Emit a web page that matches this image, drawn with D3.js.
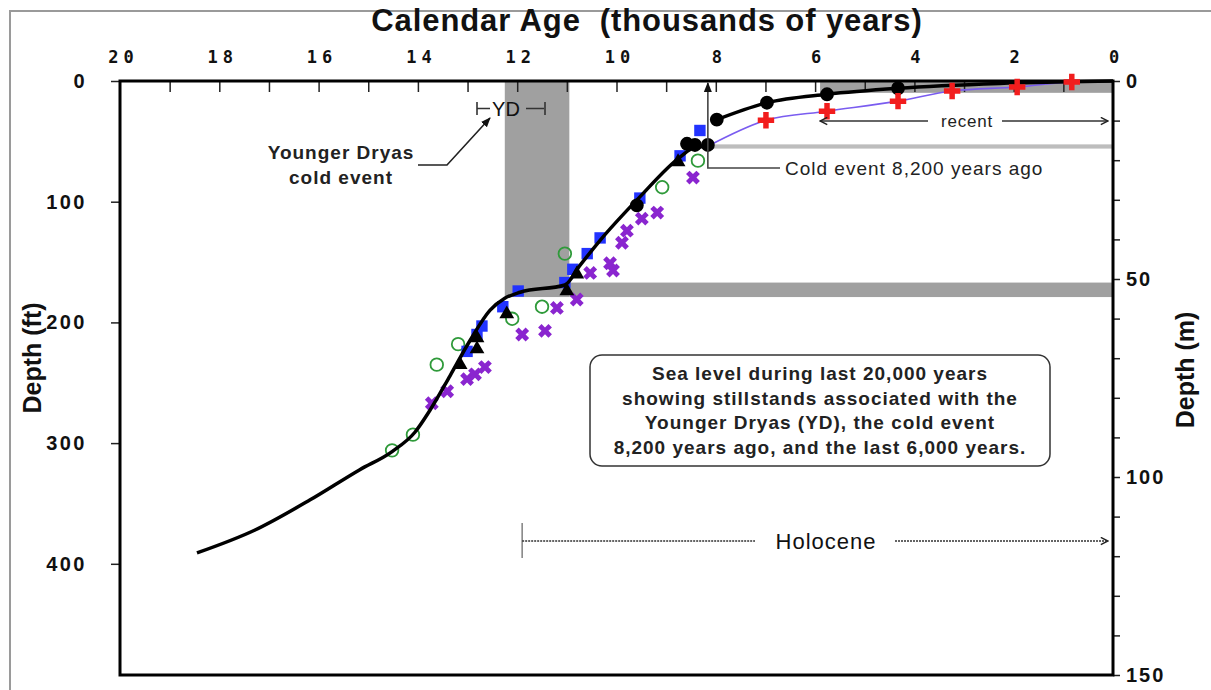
<!DOCTYPE html>
<html>
<head>
<meta charset="utf-8">
<script src="https://cdn.jsdelivr.net/npm/d3@7"></script>
<style>
  body { margin: 0; background: #fff; }
  svg { font-family: "Liberation Sans", Arial, sans-serif; }
</style>
</head>
<body>
<script>
// ages in thousands of years, depths in feet
const topTicks = [20, 18, 16, 14, 12, 10, 8, 6, 4, 2, 0]
const ftTicks = [0, 100, 200, 300, 400]
const mTicks = [0, 50, 100, 150]

const curveLow = [[18.45,391],[17.28,372],[16.17,347],[15.17,322],[14.52,307],[14.06,291],[13.76,273],[13.35,244],
  [12.95,215],[12.55,190],[12.25,180],[11.94,175],[11.04,169],[10.74,153],[10.33,132],[9.53,96],
  [8.72,63],[8.42,55],[8.16,54]]
const curveHigh = [[7.98,32],[6.97,18],[5.76,11],[4.33,6],[2.28,2],[0,0]]
const curveBlue = [[8.16,54],[6.99,32.5],[5.76,25],[4.33,16.7],[3.24,8.3],[1.93,5],[0.83,0.8],[0,0]]

const greenCircles = [[14.52,306],[14.10,293],[13.62,235],[13.19,218],[12.10,197],[11.50,187],[11.04,143],[9.08,88],[8.36,66]]
const purpleX = [[13.72,267],[13.41,257],[13.01,247],[12.85,243],[12.65,237],[11.90,210],[11.44,207],[11.20,188],
  [10.80,181],[10.53,159],[10.13,151],[10.07,157],[9.89,134],[9.79,124],[9.49,114],[9.18,109],[8.46,80]]
const blueSquares = [[13.01,224],[12.81,210],[12.71,203],[12.29,187],[11.98,174],[11.04,167],[10.88,156],
  [10.59,143],[10.33,130],[9.53,97],[8.72,62],[8.32,41]]
const blackTriangles = [[13.15,235],[12.81,222],[12.81,213],[12.21,193],[11.0,174],[10.80,160],[8.76,67]]
const blackDots = [[9.59,103],[8.58,52],[8.42,53],[8.16,53],[7.98,32],[6.97,18],[5.76,11],[4.33,6]]
const redCrosses = [[6.99,32.5],[5.76,25],[4.33,16.7],[3.24,8.3],[1.93,5],[0.83,0.8]]

const ftPerM = 3.2808
const w = 1211, h = 690
const pL = 120, pR = 1113, pT = 81, pB = 675

const x = d3.scaleLinear().domain([20, 0]).range([pL, pR])
const y = d3.scaleLinear().domain([0, 150 * ftPerM]).range([pT, pB])
const ym = d3.scaleLinear().domain([0, 150]).range([pT, pB])

const svg = d3.select("body").append("svg").attr("width", w).attr("height", h)

// arrow markers
const defs = svg.append("defs")
defs.append("marker").attr("id", "arr").attr("viewBox", "0 0 10 10").attr("refX", 9).attr("refY", 5)
  .attr("markerWidth", 9).attr("markerHeight", 9).attr("orient", "auto")
  .attr("markerUnits", "userSpaceOnUse")
  .append("path").attr("d", "M1,1 L9,5 L1,9").attr("fill", "none").attr("stroke", "#222").attr("stroke-width", 1.6)
defs.append("marker").attr("id", "arrf").attr("viewBox", "0 0 10 10").attr("refX", 9).attr("refY", 5)
  .attr("markerWidth", 10).attr("markerHeight", 10).attr("orient", "auto")
  .attr("markerUnits", "userSpaceOnUse")
  .append("path").attr("d", "M0,1 L10,5 L0,9 Z").attr("fill", "#111")

// outer frame
svg.append("path").attr("d", `M10,${h} L10,11 L${w},11`).attr("fill", "none").attr("stroke", "#9a9a9a").attr("stroke-width", 2)

// shaded stillstands
const shade = "#a0a0a0"
svg.append("rect").attr("x", x(12.25)).attr("y", y(0)).attr("width", x(10.95) - x(12.25)).attr("height", y(179) - y(0)).attr("fill", shade)
svg.append("rect").attr("x", x(10.95)).attr("y", y(167)).attr("width", x(0) - x(10.95)).attr("height", y(179) - y(167)).attr("fill", shade)
svg.append("rect").attr("x", x(5.9)).attr("y", y(0)).attr("width", x(0) - x(5.9)).attr("height", y(9.8) - y(0)).attr("fill", shade)
svg.append("rect").attr("x", x(8.16)).attr("y", y(52.5)).attr("width", x(0) - x(8.16)).attr("height", y(56) - y(52.5)).attr("fill", "#bdbdbd")

// axes
const topLab = svg.append("g").attr("transform", `translate(0,${pT})`)
  .call(d3.axisTop(x).tickValues(topTicks).tickSize(0).tickPadding(18).tickFormat(d3.format("d")))
topLab.select(".domain").remove()
topLab.selectAll("text").attr("font-size", 17).attr("font-weight", "bold").attr("letter-spacing", 5)
  .attr("font-family", "'DejaVu Sans Mono', monospace").attr("fill", "#111").attr("dx", 3)

const topMinor = svg.append("g").attr("transform", `translate(0,${pT})`)
  .call(d3.axisBottom(x).tickValues(d3.range(1, 20)).tickSize(11).tickFormat(""))
topMinor.select(".domain").remove()
topMinor.selectAll("line").attr("stroke", "#222").attr("stroke-width", 1.5)

const leftAx = svg.append("g").attr("transform", `translate(${pL},0)`)
  .call(d3.axisLeft(y).tickValues(ftTicks).tickSize(9).tickPadding(24))
leftAx.select(".domain").remove()
leftAx.selectAll("line").attr("stroke", "#222").attr("stroke-width", 1.5)
leftAx.selectAll("text").attr("font-size", 20).attr("font-weight", "bold").attr("letter-spacing", 2.5).attr("fill", "#111")

const rightAx = svg.append("g").attr("transform", `translate(${pR},0)`)
  .call(d3.axisRight(ym).tickValues(d3.range(0, 151, 10)).tickSize(7).tickPadding(6)
    .tickFormat(d => mTicks.includes(d) ? d : ""))
rightAx.select(".domain").remove()
rightAx.selectAll("line").attr("stroke", "#222").attr("stroke-width", 1.5)
rightAx.selectAll("text").attr("font-size", 20).attr("font-weight", "bold").attr("letter-spacing", 2).attr("fill", "#111")

// plot frame
svg.append("rect").attr("x", pL).attr("y", pT).attr("width", pR - pL).attr("height", pB - pT)
  .attr("fill", "none").attr("stroke", "#000").attr("stroke-width", 3)

// titles
svg.append("text").attr("x", 647).attr("y", 31).attr("text-anchor", "middle").attr("font-size", 31)
  .attr("font-weight", "bold").attr("letter-spacing", 0.9).attr("fill", "#111").attr("xml:space", "preserve")
  .text("Calendar Age  (thousands of years)")
svg.append("text").attr("transform", "translate(41,358) rotate(-90)").attr("text-anchor", "middle")
  .attr("font-size", 25).attr("font-weight", "bold").attr("fill", "#111").text("Depth (ft)")
svg.append("text").attr("transform", "translate(1194,370) rotate(-90)").attr("text-anchor", "middle")
  .attr("font-size", 25).attr("font-weight", "bold").attr("fill", "#111").text("Depth (m)")

// markers
const pt = d => `translate(${x(d[0])},${y(d[1])})`
svg.append("g").selectAll("circle").data(greenCircles).enter().append("circle")
  .attr("cx", d => x(d[0])).attr("cy", d => y(d[1])).attr("r", 6.3)
  .attr("fill", "none").attr("stroke", "#2f9a3a").attr("stroke-width", 1.8)
svg.append("g").selectAll("path").data(purpleX).enter().append("path")
  .attr("d", d3.symbol(d3.symbolCross, 120)).attr("transform", d => pt(d) + " rotate(45)").attr("fill", "#8a25cf")
svg.append("g").selectAll("path").data(blueSquares).enter().append("path")
  .attr("d", d3.symbol(d3.symbolSquare, 130)).attr("transform", pt).attr("fill", "#2233ff")
svg.append("g").selectAll("path").data(blackTriangles).enter().append("path")
  .attr("d", d3.symbol(d3.symbolTriangle, 95)).attr("transform", pt).attr("fill", "#000")

// curves
const mono = d3.line().x(d => x(d[0])).y(d => y(d[1])).curve(d3.curveMonotoneX)
svg.append("path").datum(curveBlue).attr("d", mono).attr("fill", "none").attr("stroke", "#7a5cf0").attr("stroke-width", 1.6)
svg.append("path").datum(curveLow).attr("d", mono).attr("fill", "none").attr("stroke", "#000").attr("stroke-width", 3.5)
svg.append("path").datum(curveHigh).attr("d", mono).attr("fill", "none").attr("stroke", "#000").attr("stroke-width", 3.5)

svg.append("g").selectAll("path").data(blackDots).enter().append("path")
  .attr("d", d3.symbol(d3.symbolCircle, 150)).attr("transform", pt).attr("fill", "#000")
svg.append("g").selectAll("path").data(redCrosses).enter().append("path")
  .attr("d", d3.symbol(d3.symbolCross, 150)).attr("transform", pt).attr("fill", "#f21d1d")

// annotations
const ann = svg.append("g").attr("fill", "none").attr("stroke", "#333").attr("stroke-width", 1.6)
// cold event 8,200
ann.append("path").attr("d", `M780,168 L${x(8.16)},168 L${x(8.16)},${pT + 2}`).attr("marker-end", "url(#arrf)").attr("stroke", "#444")
svg.append("text").attr("x", 785).attr("y", 175).attr("font-size", 19).attr("letter-spacing", 1).attr("fill", "#222").text("Cold event 8,200 years ago")
// recent
ann.append("line").attr("x1", 928).attr("y1", 121).attr("x2", x(5.9)).attr("y2", 121).attr("marker-end", "url(#arr)")
ann.append("line").attr("x1", 1002).attr("y1", 121).attr("x2", 1108).attr("y2", 121).attr("marker-end", "url(#arr)")
svg.append("text").attr("x", 967).attr("y", 127).attr("text-anchor", "middle").attr("font-size", 17).attr("letter-spacing", 0.8).attr("fill", "#222").text("recent")
// Holocene
ann.append("line").attr("x1", x(11.9)).attr("y1", 523).attr("x2", x(11.9)).attr("y2", 558).attr("stroke", "#888")
ann.append("line").attr("x1", x(11.9)).attr("y1", 541).attr("x2", 755).attr("y2", 541).attr("stroke-dasharray", "2,1")
ann.append("line").attr("x1", 895).attr("y1", 541).attr("x2", 1108).attr("y2", 541).attr("stroke-dasharray", "2,1").attr("marker-end", "url(#arr)")
svg.append("text").attr("x", 826).attr("y", 549).attr("text-anchor", "middle").attr("font-size", 22).attr("letter-spacing", 1).attr("fill", "#111").text("Holocene")
// YD
ann.append("path").attr("d", "M477,102 L477,115 M477,108.5 L490,108.5 M526,108.5 L544,108.5 M545,102 L545,115")
svg.append("text").attr("x", 506).attr("y", 116).attr("text-anchor", "middle").attr("font-size", 20).attr("fill", "#111").text("YD")
// Younger Dryas leader
ann.append("path").attr("d", "M418,165 L447,165 L490,118").attr("stroke", "#222").attr("marker-end", "url(#arrf)")
svg.append("text").attr("x", 341).attr("y", 159).attr("text-anchor", "middle").attr("font-size", 19).attr("letter-spacing", 1).attr("font-weight", "bold").attr("fill", "#222").text("Younger Dryas")
svg.append("text").attr("x", 341).attr("y", 184).attr("text-anchor", "middle").attr("font-size", 19).attr("letter-spacing", 1).attr("font-weight", "bold").attr("fill", "#222").text("cold event")

// info box
svg.append("rect").attr("x", 590).attr("y", 355).attr("width", 460).attr("height", 111).attr("rx", 12)
  .attr("fill", "#fff").attr("stroke", "#333").attr("stroke-width", 1.5)
const boxLines = ["Sea level during last 20,000 years", "showing stillstands associated with the",
  "Younger Dryas (YD), the cold event", "8,200 years ago, and the last 6,000 years."]
svg.append("g").selectAll("text").data(boxLines).enter().append("text")
  .attr("x", 820).attr("y", (d, i) => 380 + i * 24.5).attr("text-anchor", "middle")
  .attr("font-size", 19).attr("letter-spacing", 1).attr("font-weight", "bold").attr("fill", "#222").text(d => d)
</script>
</body>
</html>
